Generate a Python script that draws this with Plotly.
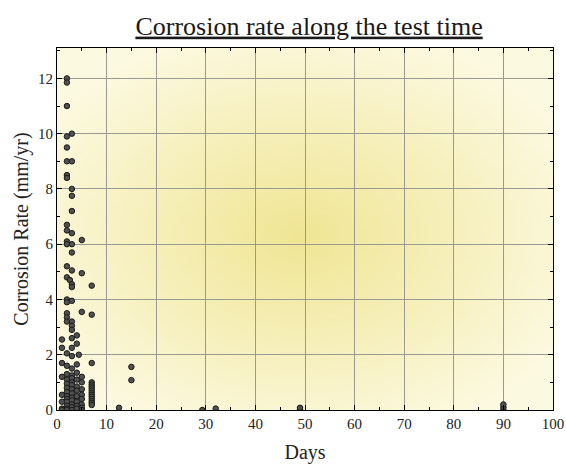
import base64
import plotly.graph_objects as go

# Test day of each measurement and the measured corrosion rate (mm/yr)
days = [
    2, 2, 2, 2, 3, 2, 2, 3, 2, 2, 3, 3, 3,
    2, 2, 3, 5, 2, 2, 3, 3, 2, 3, 5, 2, 2.6, 3, 3, 7,
    2, 2, 3, 5, 7, 2, 2, 2, 3, 3, 3, 1, 3, 4,
    1, 3, 4, 2, 3, 4.4, 1, 2, 3, 4, 7,
    7, 7, 7, 7, 7, 7, 7, 7, 7, 7, 7, 7,
    1, 1, 1, 1, 1,
    2, 2, 2, 2, 2, 2, 2, 2, 2, 2, 2,
    3, 3, 3, 3, 3, 3, 3, 3, 3, 3, 3,
    4, 4, 4, 4, 4, 4, 4, 4,
    5, 5, 5, 5, 5, 5, 5, 5,
    12.5, 15, 15, 29.3, 32, 49, 49, 90, 90, 90,
]
rate = [
    12.0, 11.85, 11.0, 9.9, 10.0, 9.5, 9.0, 9.0, 8.5, 8.4, 8.0, 7.75, 7.2,
    6.7, 6.5, 6.4, 6.15, 6.1, 6.0, 6.0, 5.7, 5.2, 5.05, 4.95, 4.8, 4.7, 4.55, 4.45, 4.5,
    4.0, 3.9, 3.95, 3.55, 3.45, 3.5, 3.35, 3.2, 3.2, 3.05, 2.9, 2.55, 2.6, 2.7,
    2.25, 2.25, 2.4, 2.05, 1.95, 2.0, 1.7, 1.6, 1.5, 1.65, 1.7,
    1.0, 0.92, 0.85, 0.78, 0.7, 0.62, 0.55, 0.48, 0.4, 0.32, 0.25, 0.18,
    1.2, 0.55, 0.3, 0.05, 0.0,
    1.3, 1.1, 0.95, 0.8, 0.65, 0.5, 0.4, 0.3, 0.15, 0.05, 0.0,
    1.25, 1.15, 1.0, 0.9, 0.75, 0.6, 0.45, 0.35, 0.2, 0.1, 0.0,
    1.35, 1.1, 0.85, 0.7, 0.5, 0.3, 0.15, 0.05,
    1.2, 1.0, 0.75, 0.55, 0.4, 0.2, 0.08, 0.0,
    0.08, 1.56, 1.08, 0.0, 0.05, 0.02, 0.08, 0.0, 0.1, 0.2,
]

x_ticks = list(range(0, 101, 10))
y_ticks = list(range(0, 13, 2))

FONT = "Liberation Serif, Times New Roman, serif"

# soft yellow glow behind the plotting area
svg = (
    "<svg xmlns='http://www.w3.org/2000/svg' width='496' height='362' "
    "preserveAspectRatio='none'><defs>"
    "<radialGradient id='g' cx='0.49' cy='0.52' r='0.6'>"
    "<stop offset='0' stop-color='#f0e593'/>"
    "<stop offset='0.45' stop-color='#f5eeb6'/>"
    "<stop offset='1' stop-color='#fcf9e1'/>"
    "</radialGradient></defs>"
    "<rect width='100%' height='100%' fill='url(#g)'/></svg>"
)
bg_uri = "data:image/svg+xml;base64," + base64.b64encode(svg.encode()).decode()

fig = go.Figure()
fig.add_trace(go.Scatter(
    x=days, y=rate, mode="markers",
    marker=dict(size=5.5, color="#505050", line=dict(color="#1a1a1a", width=1)),
    showlegend=False,
))

fig.add_layout_image(dict(
    source=bg_uri, xref="paper", yref="paper", x=0, y=1,
    sizex=1, sizey=1, sizing="stretch", xanchor="left", yanchor="top",
    layer="below",
))

axis_common = dict(
    showline=True, linecolor="black", linewidth=1, mirror="allticks",
    ticks="inside", ticklen=5, tickcolor="black", tickwidth=1,
    showgrid=True, gridcolor="#9a9a94", gridwidth=1,
    zeroline=False, automargin=False,
    tickfont=dict(family=FONT, size=15, color="#222222"),
)

fig.update_xaxes(
    range=[0, 100], tickvals=x_ticks,
    minor=dict(dtick=5, ticks="inside", ticklen=3, tickcolor="black", showgrid=False),
    title=dict(text="Days", font=dict(family=FONT, size=20, color="#222222"), standoff=14),
    **axis_common,
)
fig.update_yaxes(
    range=[0, 13.1], tickvals=y_ticks,
    minor=dict(dtick=1, ticks="inside", ticklen=3, tickcolor="black", showgrid=False),
    title=dict(text="Corrosion Rate (mm/yr)", font=dict(family=FONT, size=20, color="#222222"), standoff=4),
    **axis_common,
)

fig.update_layout(
    width=566, height=464,
    margin=dict(l=57, r=13, t=48, b=54),
    paper_bgcolor="white",
    plot_bgcolor="rgba(0,0,0,0)",
    title=dict(
        text="Corrosion rate along the test time",
        x=0.546, xanchor="center", y=0.945, yanchor="middle",
        font=dict(family=FONT, size=26, color="#1a1a1a", lineposition="under"),
    ),
)

fig.write_html("out.html")
